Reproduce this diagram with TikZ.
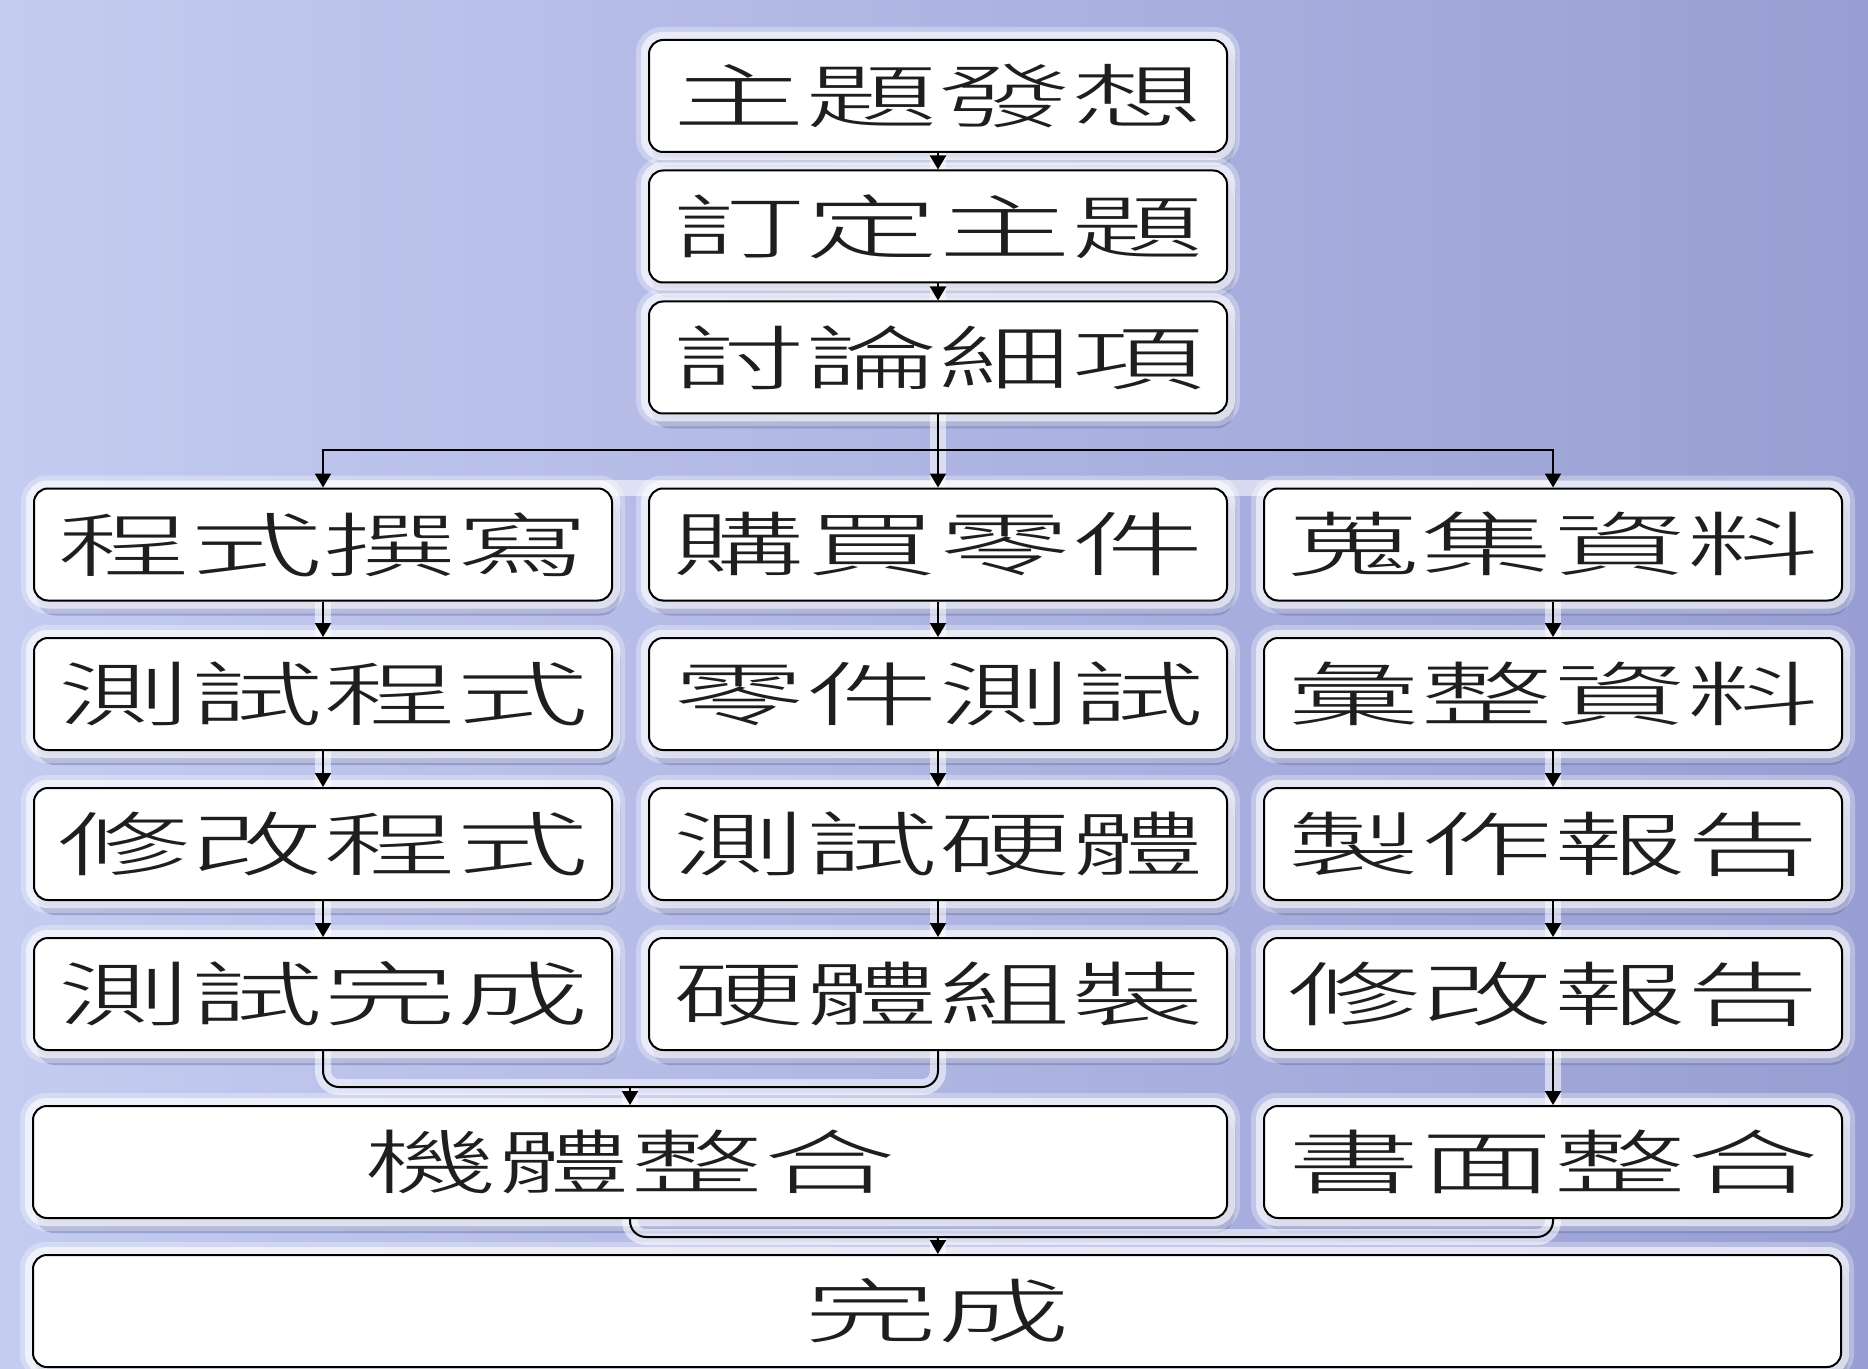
\documentclass[tikz,border=0pt]{standalone}
\usepackage{fontspec}
\usepackage{graphicx}
\IfFontExistsTF{Noto Sans CJK TC Light}
  {\newfontfamily\cjk{Noto Sans CJK TC Light}}
  {\newfontfamily\cjk{Noto Sans CJK TC}}
\usetikzlibrary{arrows.meta,backgrounds,calc}
\definecolor{bgL}{HTML}{C5CCF1}
\definecolor{bgR}{HTML}{989ED3}
\definecolor{shd}{HTML}{6870A8}
\definecolor{txt}{HTML}{1E1E1E}
\newcommand{\wt}[1]{\scalebox{1.9}[1]{#1}}
\begin{document}
\begin{tikzpicture}[x=0.5pt,y=-0.5pt,
 box/.style={draw=black, line width=1pt, fill=white, rounded corners=7pt, minimum height=56pt, inner sep=0pt, text=txt, font=\cjk\fontsize{35pt}{35pt}\selectfont},
 col/.style={box, minimum width=289pt},
 link/.style={line width=1pt, black},
 arr/.style={link, -{Triangle[width=8pt,length=7pt]}},
 glowline/.style={white, line width=8pt, opacity=0.55},
]
\useasboundingbox (0,0) rectangle (1868,1369);

% nodes
\node[col] (n1) at (938,96)    {\wt{主題發想}};
\node[col] (n2) at (938,226.5) {\wt{訂定主題}};
\node[col] (n3) at (938,357.5) {\wt{討論細項}};

\node[col] (a4) at (323,544.5)  {\wt{程式撰寫}};
\node[col] (b4) at (938,544.5)  {\wt{購買零件}};
\node[col] (c4) at (1553,544.5) {\wt{蒐集資料}};

\node[col] (a5) at (323,694)  {\wt{測試程式}};
\node[col] (b5) at (938,694)  {\wt{零件測試}};
\node[col] (c5) at (1553,694) {\wt{彙整資料}};

\node[col] (a6) at (323,844)  {\wt{修改程式}};
\node[col] (b6) at (938,844)  {\wt{測試硬體}};
\node[col] (c6) at (1553,844) {\wt{製作報告}};

\node[col] (a7) at (323,994)  {\wt{測試完成}};
\node[col] (b7) at (938,994)  {\wt{硬體組裝}};
\node[col] (c7) at (1553,994) {\wt{修改報告}};

\node[box, minimum width=597pt] (m8) at (630,1162) {\wt{機體整合}};
\node[col] (c8) at (1553,1162) {\wt{書面整合}};

\node[box, minimum width=904pt] (n9) at (937,1311) {\wt{完成}};

% connectors
\coordinate (sp) at (938,450);
\coordinate (j1) at (630,1087);
\coordinate (j2) at (938,1237);

\draw[arr] (n1) -- (n2);
\draw[arr] (n2) -- (n3);
\draw[link] (n3) -- (sp);
\draw[arr] (sp) -| (a4.north);
\draw[arr] (sp) -- (b4);
\draw[arr] (sp) -| (c4.north);
\foreach \c in {a,b,c}{
  \draw[arr] (\c4) -- (\c5);
  \draw[arr] (\c5) -- (\c6);
  \draw[arr] (\c6) -- (\c7);
}
\draw[arr] (c7) -- (c8);
\draw[link, rounded corners=8pt] (a7.south) |- (j1 -| b7.south) -- (b7.south);
\draw[arr] (j1) -- (m8);
\draw[link, rounded corners=8pt] (m8.south) |- (j2 -| c8.south) -- (c8.south);
\draw[arr] (j2) -- (n9);

% background, shadows and glows
\begin{scope}[on background layer]
\shade[left color=bgL, right color=bgR] (0,0) rectangle (1868,1369);
\foreach \n in {n1,n2,n3,a4,b4,c4,a5,b5,c5,a6,b6,c6,a7,b7,c7,m8,c8,n9}{
  \fill[shd, opacity=0.3, rounded corners=9pt]
    ([shift={(1pt,-3pt)}]\n.south west) rectangle ([shift={(4pt,-3pt)}]\n.north east);
  \fill[shd, opacity=0.45, rounded corners=9pt]
    ([shift={(2pt,-7pt)}]\n.south west) rectangle ([shift={(3pt,-7pt)}]\n.north east);
  \draw[white, line width=12pt, opacity=0.3, rounded corners=7pt] (\n.south west) rectangle (\n.north east);
  \draw[white, line width=7pt, opacity=0.6, rounded corners=7pt] (\n.south west) rectangle (\n.north east);
}
\draw[glowline] (n3) -- (sp);
\draw[glowline] (a4.north) |- (c4.north);
\draw[glowline] (sp) -- (b4);
\foreach \c in {a,b,c}{
  \draw[glowline] (\c4) -- (\c5);
  \draw[glowline] (\c5) -- (\c6);
  \draw[glowline] (\c6) -- (\c7);
}
\draw[glowline] (c7) -- (c8);
\draw[glowline] (n1) -- (n2);
\draw[glowline] (n2) -- (n3);
\draw[glowline, rounded corners=8pt] (a7.south) |- (j1 -| b7.south) -- (b7.south);
\draw[glowline] (j1) -- (m8);
\draw[glowline, rounded corners=8pt] (m8.south) |- (j2 -| c8.south) -- (c8.south);
\draw[glowline] (j2) -- (n9);
\end{scope}
\end{tikzpicture}
\end{document}
